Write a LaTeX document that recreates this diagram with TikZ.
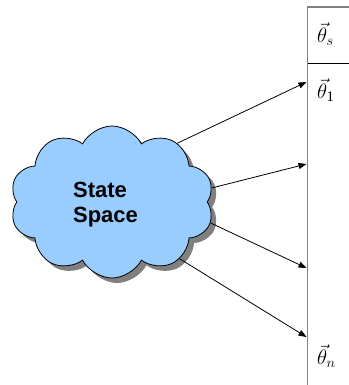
\documentclass[tikz,border=0pt]{standalone}
\usepackage{fontspec}
\usepackage{amsmath}
\setmainfont{Liberation Serif}
\newfontfamily\arialfont{Liberation Sans}
\usetikzlibrary{shapes.symbols,shadows,arrows.meta}
\definecolor{cloudblue}{HTML}{99CCFF}
\definecolor{shadowgray}{HTML}{808080}
\tikzset{
  statecloud/.style={cloud, cloud puffs=10, cloud puff arc=125, draw=black, line width=0.8pt,
    fill=cloudblue, minimum width=204pt, minimum height=152pt, inner sep=0pt,
    drop shadow={shadow xshift=5pt, shadow yshift=-5pt, fill=shadowgray, opacity=1}},
  cloudtext/.style={font=\arialfont\bfseries\fontsize{22}{25}\selectfont, align=left, inner sep=0pt},
  conn/.style={line width=0.8pt, -{Triangle[length=8pt,width=6pt]}},
  grayline/.style={draw=shadowgray, line width=1.5pt},
  blackline/.style={draw=black, line width=1pt},
  thetalabel/.style={font=\fontsize{21}{23}\selectfont, inner sep=0pt, anchor=west}
}
\begin{document}
\begin{tikzpicture}[x=1pt,y=-1pt]
\useasboundingbox (0,0) rectangle (348,385);
% column
\coordinate (ctop) at (307.5,7);
\coordinate (cbot) at (307.5,386);
\coordinate (ctr) at (349,7);
\coordinate (cml) at (307.5,64);
\coordinate (cmr) at (349,64);
\draw[grayline] (ctr) -- (ctop) -- (cbot);
\draw[blackline] (cml) -- (cmr);
% labels
\node[thetalabel] (ths) at (317,34) {$\vec{\theta}_{s}$};
\node[thetalabel] (th1) at (317,90) {$\vec{\theta}_{\mathrm{1}}$};
\node[thetalabel] (thn) at (317,356) {$\vec{\theta}_{n}$};
% cloud
\node[statecloud] (cloud) at (112,202) {};
\node[cloudtext] (cloudlabel) at (105.5,205) {State\\Space};
% arrow targets on the column
\coordinate (t1) at (306.5,82);
\coordinate (t2) at (306.5,164);
\coordinate (t3) at (306.5,268);
\coordinate (t4) at (306.5,337);
\draw[conn] (cloud.42) -- (t1);
\draw[conn] (cloud.8) -- (t2);
\draw[conn] (cloud.-12) -- (t3);
\draw[conn] (cloud.-40) -- (t4);
\end{tikzpicture}
\end{document}
